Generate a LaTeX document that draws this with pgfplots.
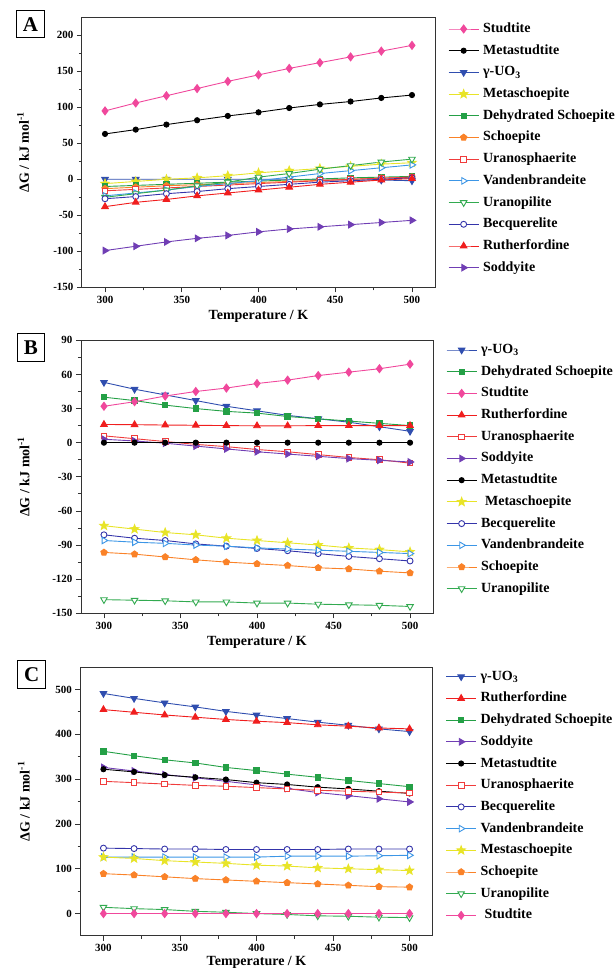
\documentclass[border=0pt]{standalone}
\usepackage{fontspec}
\setmainfont{Liberation Serif}
\usepackage{pgfplots}
\pgfplotsset{compat=1.18}
\usetikzlibrary{plotmarks}

\definecolor{cpink}{RGB}{240,72,156}
\definecolor{cblue}{RGB}{48,78,175}
\definecolor{cyellow}{RGB}{232,228,40}
\definecolor{cgreen}{RGB}{36,160,70}
\definecolor{corange}{RGB}{250,130,40}
\definecolor{cred}{RGB}{240,60,60}
\definecolor{clblue}{RGB}{60,150,230}
\definecolor{cgreen2}{RGB}{50,170,80}
\definecolor{cnavy}{RGB}{52,52,170}
\definecolor{cred2}{RGB}{240,30,30}
\definecolor{cpurple}{RGB}{112,62,180}

\pgfdeclareplotmark{fstar}{%
  \pgfpathmoveto{\pgfpointpolar{90}{1.3*\pgfplotmarksize}}%
  \pgfpathlineto{\pgfpointpolar{126}{0.55*\pgfplotmarksize}}%
  \pgfpathlineto{\pgfpointpolar{162}{1.3*\pgfplotmarksize}}%
  \pgfpathlineto{\pgfpointpolar{198}{0.55*\pgfplotmarksize}}%
  \pgfpathlineto{\pgfpointpolar{234}{1.3*\pgfplotmarksize}}%
  \pgfpathlineto{\pgfpointpolar{270}{0.55*\pgfplotmarksize}}%
  \pgfpathlineto{\pgfpointpolar{306}{1.3*\pgfplotmarksize}}%
  \pgfpathlineto{\pgfpointpolar{342}{0.55*\pgfplotmarksize}}%
  \pgfpathlineto{\pgfpointpolar{18}{1.3*\pgfplotmarksize}}%
  \pgfpathlineto{\pgfpointpolar{54}{0.55*\pgfplotmarksize}}%
  \pgfpathclose\pgfusepathqfillstroke}

\pgfplotsset{
 panel/.style={
  scale only axis,
  xmin=285, xmax=515, xtick={300,350,...,500},
  minor x tick num=1, minor y tick num=1,
  tick align=outside, xtick pos=bottom, ytick pos=left,
  major tick length=5pt, minor tick length=3pt,
  axis line style={line width=1pt, black!80},
  tick style={line width=0.8pt, black!80},
  tick label style={font=\bfseries\fontsize{11}{11}\selectfont},
  /pgf/number format/assume math mode=true,
  xlabel={Temperature / K},
  ylabel={ΔG / kJ mol\textsuperscript{-1}},
  label style={font=\bfseries\fontsize{14}{14}\selectfont},
  xlabel style={at={(axis description cs:0.5,0)}, anchor=base, yshift=-32pt},
  legend cell align=left,
  legend style={draw=none, fill=none, at={(1,1)}, anchor=north west,
    xshift=13pt, yshift=-3pt, font=\bfseries\fontsize{14}{14}\selectfont,
    row sep=8.7pt, inner sep=0pt, column sep=4pt,
    nodes={inner sep=0pt, text height=10pt, text depth=3pt}},
  legend image code/.code={\draw[mark repeat=2,mark phase=2] plot coordinates {(0pt,0pt) (15pt,0pt) (30pt,0pt)};},
  every axis plot/.append style={line width=0.9pt},
 },
 sStud/.style={color=cpink, mark=diamond*, mark size=4pt},
 sMeta/.style={color=black, mark=*, mark size=2.6pt},
 sUO/.style={color=cblue, mark=triangle*, mark size=3.8pt, mark options={rotate=180}},
 sMsch/.style={color=cyellow, mark=fstar, mark size=3.4pt},
 sDeh/.style={color=cgreen, mark=square*, mark size=2.7pt},
 sSch/.style={color=corange, mark=pentagon*, mark size=3.3pt},
 sUsph/.style={color=cred, mark=square*, mark size=2.8pt, mark options={fill=white}},
 sVan/.style={color=clblue, mark=triangle*, mark size=3.8pt, mark options={rotate=-90, fill=white}},
 sUpil/.style={color=cgreen2, mark=triangle*, mark size=3.8pt, mark options={rotate=180, fill=white}},
 sBec/.style={color=cnavy, mark=*, mark size=3pt, mark options={fill=white}},
 sRuth/.style={color=cred2, mark=triangle*, mark size=3.8pt},
 sSod/.style={color=cpurple, mark=triangle*, mark size=3.8pt, mark options={rotate=-90}},
}

\begin{document}
\begin{tikzpicture}
\useasboundingbox (0pt,0pt) rectangle (614pt,969pt);

% ---------------- Panel A ----------------
\begin{axis}[panel, at={(82pt,681.7pt)}, anchor=south west,
  width=353pt, height=270pt, ymin=-150, ymax=225, ytick={-150,-100,...,200},
  legend style={yshift=-2pt},
  ylabel style={at={(axis description cs:-0.167,0.5)}, anchor=center}]
\addplot[sStud] coordinates {(300,95)(320,106)(340,116)(360,126)(380,136)(400,145)(420,154)(440,162)(460,170)(480,178)(500,186)};
\addlegendentry{Studtite}
\addplot[sMeta] coordinates {(300,63)(320,69)(340,76)(360,82)(380,88)(400,93)(420,99)(440,104)(460,108)(480,113)(500,117)};
\addlegendentry{Metastudtite}
\addplot[sUO] coordinates {(300,0)(320,0)(340,0)(360,0)(380,0)(400,0)(420,0)(440,-1)(460,-1)(480,-1)(500,-2)};
\addlegendentry{γ-UO\textsubscript{3}}
\addplot[sMsch] coordinates {(300,-6)(320,-3)(340,0)(360,2)(380,5)(400,9)(420,12)(440,15)(460,18)(480,21)(500,23)};
\addlegendentry{Metaschoepite}
\addplot[sDeh] coordinates {(300,-10)(320,-8.5)(340,-7)(360,-5.5)(380,-4)(400,-2.5)(420,-1)(440,0.5)(460,2)(480,3)(500,4)};
\addlegendentry{Dehydrated Schoepite}
\addplot[sSch] coordinates {(300,-13)(320,-11)(340,-9)(360,-7.5)(380,-6)(400,-4.5)(420,-3)(440,-1.5)(460,0)(480,1.5)(500,3)};
\addlegendentry{Schoepite}
\addplot[sUsph] coordinates {(300,-16)(320,-14)(340,-12)(360,-10)(380,-8)(400,-6)(420,-4)(440,-2)(460,0)(480,1.5)(500,3)};
\addlegendentry{Uranosphaerite}
\addplot[sVan] coordinates {(300,-23)(320,-19)(340,-15)(360,-10)(380,-6)(400,-2)(420,3)(440,8)(460,12)(480,16)(500,20)};
\addlegendentry{Vandenbrandeite}
\addplot[sUpil] coordinates {(300,-25)(320,-20)(340,-15)(360,-9)(380,-4)(400,3)(420,8)(440,14)(460,19)(480,24)(500,28)};
\addlegendentry{Uranopilite}
\addplot[sBec] coordinates {(300,-27)(320,-24)(340,-20)(360,-17)(380,-13)(400,-10)(420,-7)(440,-4)(460,-2)(480,0)(500,2)};
\addlegendentry{Becquerelite}
\addplot[sRuth] coordinates {(300,-38)(320,-32)(340,-28)(360,-23)(380,-19)(400,-15)(420,-11)(440,-7)(460,-4)(480,-1)(500,1)};
\addlegendentry{Rutherfordine}
\addplot[sSod] coordinates {(300,-99)(320,-93)(340,-87)(360,-82)(380,-78)(400,-73)(420,-69)(440,-66)(460,-63)(480,-60)(500,-57)};
\addlegendentry{Soddyite}
\end{axis}

% ---------------- Panel B ----------------
\begin{axis}[panel, at={(81pt,355.7pt)}, anchor=south west,
  width=352pt, height=273pt, ymin=-150, ymax=90, ytick={-150,-120,...,90},
  legend style={yshift=0pt},
  ylabel style={at={(axis description cs:-0.163,0.5)}, anchor=center}]
\addplot[sUO] coordinates {(300,53)(320,47)(340,42)(360,37)(380,32)(400,28)(420,24)(440,21)(460,18)(480,14)(500,10)};
\addlegendentry{γ-UO\textsubscript{3}}
\addplot[sDeh] coordinates {(300,40)(320,37)(340,33)(360,30)(380,27.5)(400,26)(420,23)(440,21)(460,19)(480,17)(500,15)};
\addlegendentry{Dehydrated Schoepite}
\addplot[sStud] coordinates {(300,32)(320,36)(340,41)(360,45)(380,48)(400,52)(420,55)(440,59)(460,62)(480,65)(500,69)};
\addlegendentry{Studtite}
\addplot[sRuth] coordinates {(300,16)(320,15.8)(340,15.5)(360,15.3)(380,15)(400,14.8)(420,14.8)(440,15)(460,15)(480,15)(500,15)};
\addlegendentry{Rutherfordine}
\addplot[sUsph] coordinates {(300,6)(320,3.5)(340,1)(360,-1.5)(380,-3.5)(400,-6)(420,-8)(440,-10.5)(460,-13)(480,-15)(500,-18)};
\addlegendentry{Uranosphaerite}
\addplot[sSod] coordinates {(300,3)(320,1.5)(340,-0.5)(360,-3)(380,-5.5)(400,-8)(420,-10)(440,-12)(460,-14)(480,-15.5)(500,-17)};
\addlegendentry{Soddyite}
\addplot[sMeta] coordinates {(300,0)(320,0)(340,0)(360,0)(380,0)(400,0)(420,0)(440,0)(460,0)(480,0)(500,0)};
\addlegendentry{Metastudtite}
\addplot[sMsch] coordinates {(300,-73)(320,-76)(340,-79)(360,-81)(380,-84)(400,-86)(420,-88)(440,-90)(460,-92.5)(480,-94)(500,-96)};
\addlegendentry{\hspace{4pt}Metaschoepite}
\addplot[sBec] coordinates {(300,-81)(320,-84)(340,-86)(360,-89)(380,-91)(400,-93)(420,-95)(440,-97.5)(460,-100)(480,-102)(500,-104)};
\addlegendentry{Becquerelite}
\addplot[sVan] coordinates {(300,-86)(320,-87.5)(340,-88.5)(360,-90)(380,-91)(400,-92.5)(420,-93.5)(440,-94.5)(460,-95.5)(480,-96.5)(500,-97.5)};
\addlegendentry{Vandenbrandeite}
\addplot[sSch] coordinates {(300,-96.5)(320,-98)(340,-100.5)(360,-103)(380,-105)(400,-106.5)(420,-108)(440,-110)(460,-111)(480,-113)(500,-114.5)};
\addlegendentry{Schoepite}
\addplot[sUpil] coordinates {(300,-138)(320,-138.5)(340,-139)(360,-140)(380,-140)(400,-141)(420,-141)(440,-142)(460,-142.5)(480,-143)(500,-144)};
\addlegendentry{Uranopilite}
\end{axis}

% ---------------- Panel C ----------------
\begin{axis}[panel, at={(80.5pt,33pt)}, anchor=south west,
  width=352pt, height=269pt, ymin=-50, ymax=550, ytick={0,100,...,500},
  legend style={yshift=0pt},
  xlabel style={yshift=3pt},
  ylabel style={at={(axis description cs:-0.161,0.5)}, anchor=center}]
\addplot[sUO] coordinates {(300,491)(320,480)(340,470)(360,461)(380,451)(400,443)(420,435)(440,427)(460,420)(480,412)(500,406)};
\addlegendentry{γ-UO\textsubscript{3}}
\addplot[sRuth] coordinates {(300,455)(320,449)(340,443)(360,438)(380,433)(400,429)(420,426)(440,421)(460,418)(480,414)(500,412)};
\addlegendentry{Rutherfordine}
\addplot[sDeh] coordinates {(300,362)(320,352)(340,343)(360,336)(380,326)(400,319)(420,311)(440,304)(460,297)(480,290)(500,283)};
\addlegendentry{Dehydrated Schoepite}
\addplot[sSod] coordinates {(300,326)(320,318)(340,310)(360,303)(380,295)(400,287)(420,279)(440,270)(460,263)(480,256)(500,249)};
\addlegendentry{Soddyite}
\addplot[sMeta] coordinates {(300,322)(320,316)(340,309)(360,304)(380,299)(400,292)(420,288)(440,282)(460,278)(480,273)(500,268)};
\addlegendentry{Metastudtite}
\addplot[sUsph] coordinates {(300,295)(320,292)(340,289)(360,286)(380,284)(400,281)(420,278)(440,275)(460,273)(480,271)(500,269)};
\addlegendentry{Uranosphaerite}
\addplot[sBec] coordinates {(300,146)(320,145)(340,144)(360,144)(380,143)(400,143)(420,143)(440,143)(460,144)(480,144)(500,144)};
\addlegendentry{Becquerelite}
\addplot[sVan] coordinates {(300,126)(320,126)(340,126)(360,126)(380,126)(400,126)(420,128)(440,128)(460,128)(480,129)(500,130)};
\addlegendentry{Vandenbrandeite}
\addplot[sMsch] coordinates {(300,126)(320,123)(340,118)(360,115)(380,112)(400,108)(420,106)(440,102)(460,100)(480,98)(500,96)};
\addlegendentry{Mestaschoepite}
\addplot[sSch] coordinates {(300,89)(320,86)(340,82)(360,78)(380,75)(400,72)(420,69)(440,66)(460,63)(480,60)(500,59)};
\addlegendentry{Schoepite}
\addplot[sUpil] coordinates {(300,14)(320,11)(340,9)(360,5)(380,3)(400,0)(420,-2)(440,-5)(460,-6)(480,-8)(500,-9)};
\addlegendentry{Uranopilite}
\addplot[sStud] coordinates {(300,0)(320,0)(340,0)(360,0)(380,0)(400,0)(420,0)(440,0)(460,0)(480,0)(500,0)};
\addlegendentry{\hspace{4pt}Studtite}
\end{axis}

% panel letters
\node[draw, line width=1pt, minimum width=28pt, minimum height=27pt, inner sep=0pt,
  font=\bfseries\fontsize{21}{21}\selectfont] at (30.5pt,944.6pt) {A};
\node[draw, line width=1pt, minimum width=27pt, minimum height=28pt, inner sep=0pt,
  font=\bfseries\fontsize{21}{21}\selectfont] at (31pt,621pt) {B};
\node[draw, line width=1pt, minimum width=28pt, minimum height=28pt, inner sep=0pt,
  font=\bfseries\fontsize{21}{21}\selectfont] at (31.8pt,294pt) {C};
\end{tikzpicture}
\end{document}
